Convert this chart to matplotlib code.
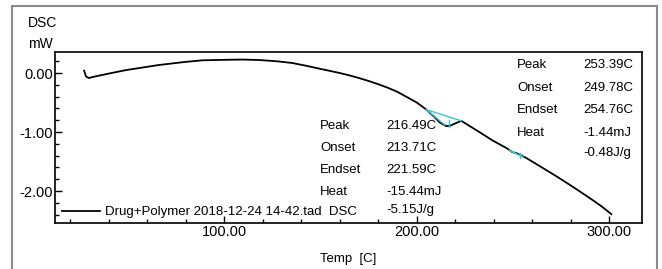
import matplotlib.pyplot as plt
from matplotlib.lines import Line2D
from matplotlib.ticker import MultipleLocator, FormatStrFormatter

plt.rcParams['font.family'] = ['Liberation Sans', 'DejaVu Sans']

# DSC trace (Temp in C, DSC in mW)
temp = [27.3, 28.3, 29.9, 31.4, 40.0, 49.1, 66.2, 79.2, 88.6, 102.6, 110.0,
        118.2, 127.0, 135.3, 143.0, 150.0, 155.0, 160.0, 165.0, 170.0, 175.0,
        180.0, 185.0, 190.0, 195.0, 200.0, 205.0, 209.0, 212.0, 215.3, 217.5,
        219.5, 223.1, 232.5, 239.2, 246.5, 249.6, 252.0, 256.9, 265.0, 274.0,
        283.0, 291.2, 296.0, 301.0]
dsc = [0.04, -0.06, -0.085, -0.07, -0.01, 0.05, 0.136, 0.186, 0.215, 0.225,
       0.228, 0.22, 0.20, 0.17, 0.12, 0.07, 0.035, 0.0, -0.04, -0.085, -0.135,
       -0.19, -0.25, -0.32, -0.41, -0.50, -0.62, -0.74, -0.84, -0.90, -0.89,
       -0.86, -0.81, -1.00, -1.14, -1.27, -1.34, -1.36, -1.44, -1.60, -1.78,
       -1.97, -2.15, -2.26, -2.39]

# cyan peak evaluation helper lines
peak1_base_t = [205.0, 223.1]
peak1_base_v = [-0.62, -0.81]
peak1_tan_t = [205.0, 214.5]
peak1_tan_v = [-0.62, -0.88]
peak1_mark_t = [216.5, 216.5]
peak1_mark_v = [-0.80, -0.92]
peak2_base_t = [248.0, 255.0]
peak2_base_v = [-1.31, -1.42]
peak2_mark_t = [253.4, 253.4]
peak2_mark_v = [-1.35, -1.44]

labels1 = ["Peak", "Onset", "Endset", "Heat"]
values1 = ["216.49C", "213.71C", "221.59C", "-15.44mJ", "-5.15J/g"]
labels2 = ["Peak", "Onset", "Endset", "Heat"]
values2 = ["253.39C", "249.78C", "254.76C", "-1.44mJ", "-0.48J/g"]

fig = plt.figure(figsize=(6.62, 2.69), dpi=100)
ax = fig.add_axes([0.0831, 0.171, 0.8867, 0.6357])

cyan = "#3cc4d4"
ax.plot(temp, dsc, color="black", lw=1.3,
        label="Drug+Polymer 2018-12-24 14-42.tad  DSC")
ax.plot(peak1_base_t, peak1_base_v, color=cyan, lw=1)
ax.plot(peak1_tan_t, peak1_tan_v, color=cyan, lw=1)
ax.plot(peak1_mark_t, peak1_mark_v, color=cyan, lw=1)
ax.plot(peak2_base_t, peak2_base_v, color=cyan, lw=1.2)
ax.plot(peak2_mark_t, peak2_mark_v, color=cyan, lw=1)

ax.set_xlim(12.2, 316.9)
ax.set_ylim(-2.54, 0.356)
ax.xaxis.set_major_locator(MultipleLocator(100))
ax.xaxis.set_minor_locator(MultipleLocator(20))
ax.yaxis.set_major_locator(MultipleLocator(1))
ax.yaxis.set_minor_locator(MultipleLocator(0.2))
ax.xaxis.set_major_formatter(FormatStrFormatter("%.2f"))
ax.yaxis.set_major_formatter(FormatStrFormatter("%.2f"))
ax.tick_params(which="both", direction="in", labelsize=10.5, pad=1.5)
ax.tick_params(which="major", length=5, width=1)
ax.tick_params(which="minor", length=3, width=1)
for s in ax.spines.values():
    s.set_linewidth(1.2)

ax.set_xlabel("Temp  [C]", fontsize=9.5, labelpad=10)
fig.text(28 / 662, 1 - 23 / 269, "DSC", fontsize=10, va="center")
fig.text(28 / 662, 1 - 44 / 269, "mW", fontsize=10, va="center")

# annotation blocks
ys1 = [-0.90, -1.27, -1.64, -2.02]
for lab, yy in zip(labels1, ys1):
    ax.text(149.9, yy, lab, fontsize=9.5, va="center")
for val, yy in zip(values1, ys1 + [-2.32]):
    ax.text(184.2, yy, val, fontsize=9.5, va="center")
ys2 = [0.136, -0.254, -0.627, -1.017]
for lab, yy in zip(labels2, ys2):
    ax.text(252.2, yy, lab, fontsize=9.5, va="center")
for val, yy in zip(values2, ys2 + [-1.356]):
    ax.text(286.5, yy, val, fontsize=9.5, va="center")

ax.legend(loc="center left", bbox_to_anchor=(0.012, 0.064), frameon=False,
          borderpad=0, borderaxespad=0, handlelength=2.9, handletextpad=0.35,
          fontsize=9.5)

# outer frame
fc = "#8a8a8a"
fig.add_artist(Line2D([12 / 662, 12 / 662], [-0.05, 1 - 6 / 269],
                      transform=fig.transFigure, color=fc, lw=1.5))
fig.add_artist(Line2D([12 / 662, 657 / 662], [1 - 6 / 269, 1 - 6 / 269],
                      transform=fig.transFigure, color=fc, lw=1.5))
fig.add_artist(Line2D([657 / 662, 657 / 662], [-0.05, 1 - 6 / 269],
                      transform=fig.transFigure, color=fc, lw=1.5))

fig.savefig("out.png", dpi=100)
